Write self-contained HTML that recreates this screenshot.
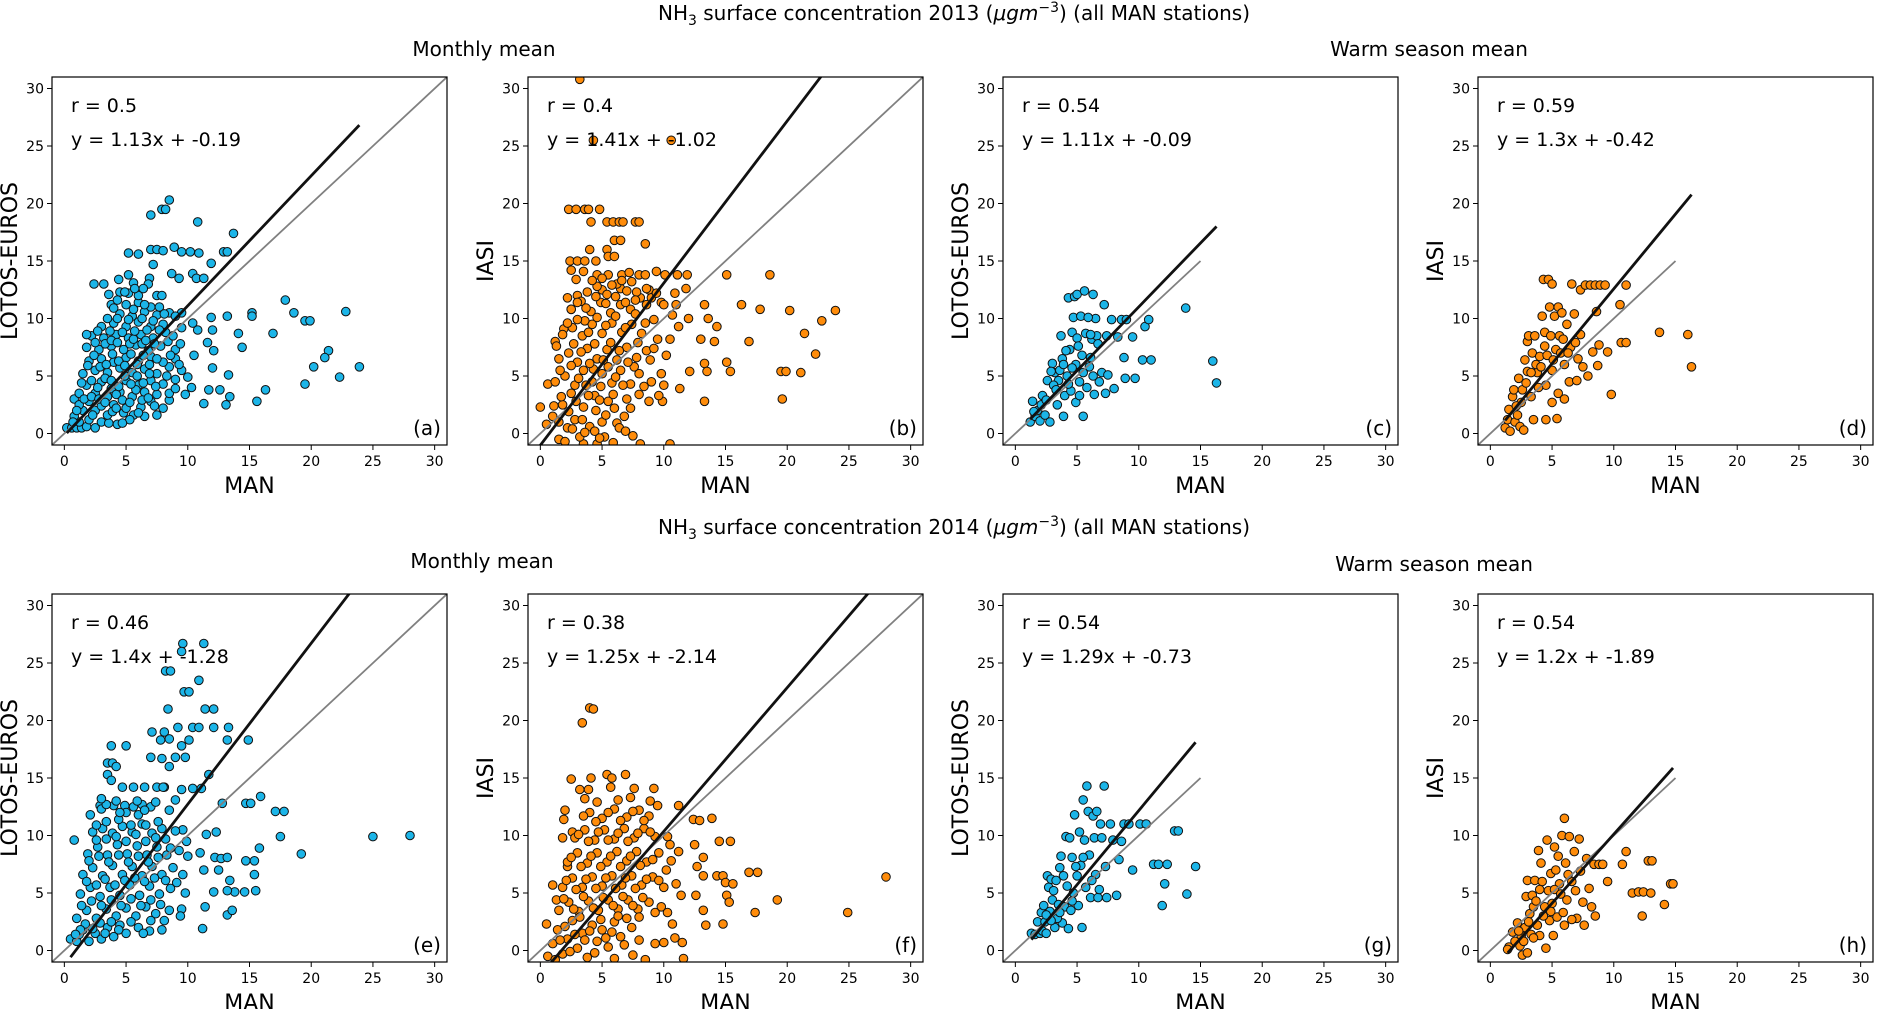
<!DOCTYPE html>
<html><head><meta charset="utf-8"><style>
html,body{margin:0;padding:0;background:#fff;}
svg{display:block;font-family:"DejaVu Sans","Liberation Sans",sans-serif;}
</style></head><body>
<svg id="fig" width="1877" height="1009" viewBox="0 0 1877 1009" xmlns="http://www.w3.org/2000/svg">
<text x="954" y="20" font-size="20" text-anchor="middle">NH<tspan font-size="14" dy="5">3</tspan><tspan dy="-5"> surface concentration 2013 (</tspan><tspan font-style="italic">μgm</tspan><tspan font-size="14" dy="-8">−3</tspan><tspan dy="8">) (all MAN stations)</tspan></text>
<text x="484" y="56" font-size="20" text-anchor="middle">Monthly mean</text>
<text x="1429" y="56" font-size="20" text-anchor="middle">Warm season mean</text>
<text x="954" y="534" font-size="20" text-anchor="middle">NH<tspan font-size="14" dy="5">3</tspan><tspan dy="-5"> surface concentration 2014 (</tspan><tspan font-style="italic">μgm</tspan><tspan font-size="14" dy="-8">−3</tspan><tspan dy="8">) (all MAN stations)</tspan></text>
<text x="482" y="568" font-size="20" text-anchor="middle">Monthly mean</text>
<text x="1434" y="571" font-size="20" text-anchor="middle">Warm season mean</text>
</svg>
<script>
const xTicks = [0,5,10,15,20,25,30];
const yTicks = [0,5,10,15,20,25,30];
const ptsA = [[7,19],[7.9,19.5],[8.2,19.5],[8.5,20.3],[10.8,18.4],[13.7,17.4],[3.2,13],[2.4,13],[5.2,15.7],[6,15.6],[7,16],[7.5,16],[8,15.9],[8.9,16.2],[9.5,15.8],[10.2,15.8],[10.9,15.7],[12.9,15.8],[13.2,15.8],[11.9,14.8],[10.4,13.9],[10.7,13.5],[11.3,13.5],[9.3,13.5],[8.7,13.9],[7.2,14.7],[6.9,13.5],[5.2,13.8],[4.4,13.4],[4.5,12.3],[7.5,12],[7.9,12],[15.2,10.5],[15.2,10.2],[13.2,10.2],[11.9,10.1],[17.9,11.6],[18.6,10.5],[19.5,9.8],[19.9,9.8],[22.8,10.6],[14.1,8.7],[16.9,8.7],[14.4,7.5],[21.4,7.2],[21.1,6.6],[20.2,5.8],[23.9,5.8],[22.3,4.9],[19.5,4.3],[16.3,3.8],[15.6,2.8],[13.1,2.5],[11.3,2.6],[13.4,3.2],[13.3,5.1],[12.6,3.8],[11.7,3.8],[10.3,4.0],[12,5.7],[12.1,7.2],[11.6,7.9],[12,9],[10.8,9],[9.5,9.2],[10.4,9.6],
[0.2,0.5],[0.6,0.5],[1,0.5],[1.4,0.5],[1.8,0.6],[2.5,0.5],[1.2,1],[0.8,1.5],[2,1.2],[3,1],[3.6,0.9],[4.3,0.8],[1.5,2],[2.5,2],[3.5,1.6],[4.8,1.8],[5.6,1.6],[6.5,1.5],[7.5,1.6],[2,2.8],[3,2.4],[4,2.5],[5,2.2],[6.2,2.3],[7,2.8],[8.5,2.9],[0.8,3],[1.2,3.5],[2.5,3.5],[3.5,3.2],[4.5,3.6],[5.5,3.2],[6.5,3.6],[7.5,3.4],[8.5,3.5],[9.8,3.4],[1.8,4.2],[3,4.5],[4,4.3],[5,4.6],[6,4.2],[7,4.6],[8,4.3],[9,4.7],[10,4.9],[1.5,5.2],[2.5,5.5],[3.5,5.3],[4.5,5.7],[5.5,5.3],[6.5,5.6],[7.5,5.2],[8.5,5.8],[9.5,5.5],[2,6.3],[3,6.5],[4,6.2],[5,6.6],[6,6.3],[7,6.7],[8,6.2],[9,6.5],[10.5,6.8],[1.8,7.5],[2.8,7.3],[3.8,7.6],[4.8,7.3],[5.8,7.7],[6.8,7.2],[7.8,7.6],[9,7.3],[2.2,8.5],[3.2,8.3],[4.2,8.6],[5.2,8.3],[6.2,8.6],[7.2,8.3],[8.2,8.8],[1.8,8.6],[3,9.3],[4,9.6],[5,9.3],[6,9.7],[7,9.3],[8,9.5],[9.5,10.5],[3.5,10],[4.5,10.4],[5.5,10.2],[6.5,10.6],[7.5,10.3],[8.5,10.5],[3.8,11.2],[5,11.2],[6,11.4],[7,11],[5.2,12.2],[6,12],[4.9,12.3],[5.6,13.1],[6.8,13]];
const ptsA2 = [[1.2,2.5],[1.6,3],[2.2,3.2],[2.8,3],[3.3,2.7],[3.8,3.9],[4.2,3.4],[4.7,2.9],[5.3,2.7],[5.8,3.8],[6.3,2.9],[6.8,3.1],[7.3,2.4],[1.4,4.4],[2.2,4.6],[2.7,4],[3.3,4.8],[3.8,4.6],[4.4,4.1],[4.9,5],[5.4,4.3],[5.9,5],[6.4,4.4],[6.9,5.2],[7.4,4.1],[8.3,5],[1.9,5.9],[2.4,6.8],[2.9,5.8],[3.4,6],[3.9,6.9],[4.4,6.3],[4.9,5.9],[5.4,6.9],[5.9,6],[6.4,6.8],[6.9,6],[7.5,6.5],[8.6,6.8],[2.5,7.9],[3.3,7.8],[3.8,8.1],[4.3,7.9],[5.3,7.8],[5.6,8.2],[6.3,7.8],[6.6,8.1],[7.3,7.8],[8.4,8],[2.7,8.9],[3.7,8.9],[4.7,8.8],[5.7,8.9],[6.7,9],[7.7,9],[4.3,10],[5.2,9.9],[6.3,10],[7.2,9.8],[4,10.9],[5.6,10.8],[6.5,11.2],[1,2],[0.7,1],[2.3,1.6],[3.9,1.9],[5.3,1.2],[4.2,2.2],[6,1.8],[8,2.2],[9,3.9],[9.3,6],[8.8,8.5],[9.4,7.8],[3.6,12.1],[4.3,11.6],[4.7,0.9],[5.7,12.6],[6.4,12.6],[7.7,11],[8.1,10.4],[9,10.2]];
const ptsB = [[3.2,30.8],[4.3,25.5],[10.6,25.5],[2.3,19.5],[2.9,19.5],[3.6,19.5],[3.9,19.5],[4.8,19.5],[4.1,18.4],[5.4,18.4],[5.9,18.4],[6.4,18.4],[6.7,18.4],[7.7,18.4],[8,18.4],[8.5,16.5],[6,16.8],[6.5,16.8],[5.4,16],[4,16],[5.5,15.4],[6,15.4],[2.4,15],[3,15],[3.6,15],[4.5,15],[4.6,13.8],[5.5,13.8],[6.6,13.8],[7.2,14],[8,13.8],[8.5,13.8],[9.4,14.1],[10.1,13.8],[11.1,13.8],[11.9,13.8],[15.1,13.8],[18.6,13.8],[10.9,12.2],[11.8,12.6],[13.3,11.2],[16.3,11.2],[17.8,10.8],[20.2,10.7],[23.9,10.7],[22.8,9.8],[21.4,8.7],[16.9,8],[14.3,9.3],[13,8.2],[14.1,8],[12,10],[13.6,10],[11.2,9.3],[15.1,6.2],[15.4,5.4],[19.5,5.4],[19.9,5.4],[21.1,5.3],[22.3,6.9],[19.6,3],[13.3,2.8],[11.3,3.9],[13.3,6.1],[13.5,5.4],[12.1,5.4],[9.9,2.8],[10.5,-0.9],[8.1,-0.9],[7.5,-0.2],[6.2,0.9],[4.6,-0.9],[3.5,-0.9],[5.2,-0.3],[0,2.3],[0.6,4.3],[1.2,8],[1.9,9.1],[2.5,10.8],[3,12],[2.5,14.2],[3.5,14.1],[5,12.5],[6.5,12.6],[8.8,12.5],[9.8,11.4],
[0.5,0.8],[1,1.5],[1.5,-0.5],[1.8,2.5],[2.2,0.5],[2.5,3.5],[2.8,1.2],[3.2,-0.3],[3.5,2.3],[4,0.6],[4.5,2],[5,1],[5.5,2.8],[6,2.2],[7,3],[8,3.4],[1.2,4.5],[2,5],[2.8,4.2],[3.5,5.5],[4.2,4.5],[5,5.2],[5.8,4.4],[6.5,5.5],[7.3,4.3],[8,5.2],[9,4.5],[10,4.2],[1.5,6.5],[2.3,7],[3,6.2],[3.8,7.4],[4.6,6.5],[5.4,7.3],[6.2,6.4],[7,7.5],[7.8,6.6],[8.6,7.2],[9.5,8.2],[10.5,8.2],[1.8,8.6],[2.6,9.2],[3.4,8.5],[4.2,9.5],[5,8.7],[5.8,9.6],[6.6,8.8],[7.4,9.5],[8.2,8.7],[9.2,9.9],[2.5,10.8],[3.3,11.5],[4.1,10.6],[4.9,11.4],[5.7,10.5],[6.5,11.2],[7.3,10.8],[8.1,11.8],[9,11.8],[10,11.2],[3.8,12.3],[4.6,12.8],[5.4,12.1],[6.2,13],[7,12.4],[7.8,12.3],[8.6,12.6],[3.6,9.8],[4.4,3.3],[6.8,1.5]];
const ptsB2 = [[1.1,2.4],[1.7,3.2],[2.3,1.9],[2.9,2.8],[3.4,1.2],[3.9,3.3],[4.4,0.2],[4.8,2.9],[5.3,1.6],[5.9,3.4],[6.4,0.5],[7.3,2.2],[1.6,5.5],[2.5,5.9],[3.1,4.8],[3.7,4.2],[4.3,5.6],[4.9,4.1],[5.5,5.8],[6.1,4.9],[6.7,4.2],[7.6,5.8],[8.4,4.1],[1.3,7.6],[2.7,7.8],[3.3,7.1],[4,6.1],[4.4,7.8],[5.1,6.4],[5.7,7.9],[6.4,7.2],[7.1,6.2],[7.9,7.9],[8.9,6.4],[2.2,9.6],[3,9.9],[3.9,8.8],[4.6,10.1],[5.3,9.4],[6.1,10.2],[6.9,9.2],[7.7,10.4],[8.5,9.6],[3,11.4],[3.7,10.9],[4.5,11.9],[5.3,11.3],[6.1,11.9],[6.9,11.4],[7.7,11.6],[8.6,11.2],[9.4,12.2],[4.2,13.3],[5,13.5],[5.8,12.9],[6.6,13.3],[7.4,13.2],[2.2,11.8],[2.9,13.4],[1.5,1],[2,-0.7],[2.6,0.4],[3.6,0.1],[4.8,-0.4],[5.9,-0.8],[6.9,0.2],[8.8,2.8],[9.6,3.3],[9.8,5.2],[9.2,7.4],[10.2,6.8],[10.7,10.3],[11,11.2]];
const ptsC = [[1.2,1],[1.4,2.8],[1.6,1.5],[1.8,2],[2,1.1],[2.2,3.3],[2.4,1.6],[2.6,4.6],[2.8,1],[3,6.1],[3.2,5.3],[3.4,2.5],[3.5,4.6],[3.7,8.5],[3.8,6.5],[3.9,1.5],[4,3.3],[4.2,5],[4.3,11.8],[4.4,7.3],[4.5,3.7],[4.6,8.8],[4.7,10.1],[4.8,11.9],[4.9,6],[5,8.3],[5,12.1],[5.2,4.5],[5.3,10.2],[5.4,6.8],[5.5,1.5],[5.6,12.4],[5.7,8.7],[5.8,4],[6,5.8],[6.2,8.2],[6.3,12.1],[6.4,3.4],[6.5,10],[6.6,8.5],[6.8,4.5],[7,5.3],[7.2,11.2],[7.3,3.5],[7.4,8.5],[7.8,9.9],[8,3.9],[8.3,8.4],[8.6,9.9],[8.8,6.6],[8.9,4.8],[9,9.9],[9.5,8.4],[9.7,4.8],[10.3,6.4],[10.5,9.3],[10.8,9.9],[11,6.4],[13.8,10.9],[16,6.3],[16.3,4.4],[3.1,4.2],[4.1,7.2],[5.1,7.6],[6.1,6.6],[2.9,5.4],[7.5,5.1],[4.9,2.7],[3.3,3.8],[2.1,2.5],[1.5,1.9],[2.5,2.9],[3.6,5.5],[4.3,4.3],[5.5,5.3],[6.3,5],[3.9,6],[4.6,5.7],[5.2,3.3],[6.7,7.8],[6.1,8.6],[5.9,10.1]];
const ptsD = [[1.2,0.5],[1.4,1.2],[1.5,2.1],[1.6,0.2],[1.8,3.2],[1.9,3.8],[2,1],[2.2,1.6],[2.3,4.8],[2.4,0.6],[2.6,3.8],[2.7,0.3],[2.8,6.4],[3,5.4],[3,8],[3.1,8.5],[3.3,3.2],[3.4,7],[3.5,1.2],[3.6,8.5],[3.8,5.3],[4,6.7],[4.2,10.2],[4.3,13.4],[4.4,8.8],[4.5,4.2],[4.5,1.2],[4.7,13.4],[4.8,11],[4.9,8.5],[5,5.5],[5,13],[5.2,10.2],[5.3,7.3],[5.4,1.3],[5.5,11],[5.5,3.5],[5.6,8.5],[5.8,10.5],[6,6],[6.2,9.5],[6.4,4.5],[6.5,7.5],[6.6,13],[6.8,10.4],[7,4.6],[7.1,6.5],[7.3,12.5],[7.3,8.6],[7.5,5.8],[7.7,12.9],[7.9,5],[8.1,12.9],[8.3,7.1],[8.5,12.9],[8.6,10.6],[8.7,5.9],[8.8,7.7],[8.9,12.9],[9.3,12.9],[9.5,7.1],[9.8,3.4],[10.5,11.2],[10.6,7.9],[11,7.9],[11,12.9],[13.7,8.8],[16,8.6],[16.3,5.8],[6,3],[5,2.7],[3.9,4],[2.5,2.7],[4.6,6.8],[2.1,2.4],[2.9,4.4],[3.7,6],[4.1,5.8],[5.1,6.4],[5.7,7],[6.3,7],[4.4,7.6],[3.3,5.3],[6.9,7.9],[5.9,8.2]];
const ptsE = [[9.6,26.7],[9.5,26],[11.3,26.7],[8.2,24.3],[8.6,24.3],[10.9,23.5],[9.7,22.5],[10.1,22.5],[8.4,21],[11.4,21],[12.1,21],[7.1,19],[8.1,19],[9.2,19.4],[10.4,19.4],[10.9,19.4],[12.1,19.4],[13.3,19.4],[13.2,18.3],[14.9,18.3],[8.5,18.4],[10.1,18.3],[9.5,17.8],[7.8,18.3],[5,17.8],[3.8,17.8],[3.5,16.3],[3.9,16.3],[4.2,16],[7,16.8],[7.9,16.7],[8.5,16],[9,16.8],[9.8,16.8],[11.1,14.1],[11.7,15.3],[10.4,14.1],[9.5,14],[5.6,14.2],[6.5,14.2],[7.5,14.2],[8.1,14.2],[3.5,15.3],[3.8,14.8],[4.7,14.2],[14.7,12.8],[15.1,12.8],[15.9,13.4],[17.1,12.1],[17.8,12.1],[12.8,12.8],[17.5,9.9],[25,9.9],[28,10],[19.2,8.4],[15.8,8.9],[15.4,7.8],[14.7,7.8],[15.4,6.6],[15.5,5.2],[14.6,5.1],[13.8,5.1],[13.2,5.2],[13.4,6.1],[12.1,5.1],[12.5,7],[11.4,3.8],[11.2,1.9],[13.2,3.1],[13.6,3.5],[12.3,10.3],[11.5,10.1],[11,8.5],[12.2,8.1],[12.7,8],[13.2,8.1],[11.3,7],[6.9,1.7],[7.9,1.8],[0.8,9.6],[2.1,11.8],[2.9,12.6],[4.9,12.6],[6.3,12.7],
[0.5,1],[1,0.8],[1.5,1.8],[2,0.8],[2.5,1.5],[3,1],[3.5,2],[4,1.2],[4.5,2.2],[5,1.5],[6,2],[1,2.8],[1.8,3.5],[2.6,2.8],[3.4,3.6],[4.2,3],[5,3.7],[5.8,3],[6.6,3.8],[7.4,3.2],[8.5,3.5],[9.5,3.6],[1.3,4.9],[2.1,5.5],[2.9,4.7],[3.7,5.5],[4.5,4.8],[5.3,5.7],[6.1,4.8],[6.9,5.6],[7.7,4.9],[8.6,5.4],[9.8,5],[1.5,6.6],[2.3,7.2],[3.1,6.5],[3.9,7.4],[4.7,6.6],[5.5,7.3],[6.3,6.5],[7.1,7.3],[7.9,6.6],[8.8,7.2],[9.6,6.6],[1.9,8.4],[2.7,9],[3.5,8.3],[4.3,9.2],[5.1,8.4],[5.9,9.1],[6.7,8.3],[7.5,9],[8.3,8.3],[9.3,8.7],[2.3,10.3],[3.1,10.6],[3.9,10.2],[4.7,10.8],[5.5,10.3],[6.3,11],[7.1,10.2],[7.9,10.6],[3,12.3],[4,12.6],[5,12],[6,11.8],[7,12.5],[8.5,12.2],[9.6,10.5]];
const ptsE2 = [[1.2,1.4],[1.7,2.3],[2.3,1.9],[2.9,2.4],[3.3,1.5],[3.8,2.5],[4.4,1.8],[5.4,2.5],[6.4,1.5],[7,2.6],[1.4,3.9],[2.2,4.3],[3,3.9],[3.8,4.4],[4.6,3.9],[5.4,4.5],[6.2,3.9],[7,4.4],[7.8,4],[1.8,6],[2.6,5.7],[3.3,6.2],[4.1,5.7],[4.9,6.1],[5.7,6.3],[6.5,6],[7.3,6.3],[8.2,6.1],[2,7.8],[2.8,8.2],[3.6,7.7],[4.4,8.3],[5.2,7.7],[6,8.2],[6.8,7.7],[7.6,8.1],[8.6,8.9],[2.6,9.6],[3.4,9.7],[4.2,9.9],[5,9.5],[5.8,10.1],[6.6,9.5],[7.4,9.8],[8.2,9.7],[2.6,10.9],[3.4,11.2],[4.4,11.4],[5.4,10.9],[6.6,10.9],[7.6,11.2],[3.4,12.7],[4.5,12],[5.6,12.5],[6.5,12.2],[7.4,12.9],[3,13.2],[4.2,13],[5.9,13],[9,13.1],[8,14.2],[9,10.4],[9.9,9.5],[9.1,5.9],[9.4,3],[8.1,2.6],[10,8.2],[1.3,1.8],[0.9,1.4]];
const ptsF = [[4,21.1],[4.3,21],[3.4,19.8],[2.5,14.9],[4.1,15],[5.4,15.3],[5.8,15],[6.9,15.3],[7.6,14.1],[9.2,14.1],[3.2,14],[3.6,13.2],[3.9,14],[5.7,14.2],[8.9,13],[9.5,12.6],[11.2,12.6],[12.4,11.4],[12.9,11.3],[13.9,11.5],[14.5,9.5],[15.4,9.5],[12.5,9.2],[13.2,8.1],[12.7,7.3],[13.2,6.5],[14.3,6.5],[14.8,6.5],[15,5.9],[15.6,5.8],[16.9,6.8],[17.6,6.8],[28,6.4],[19.2,4.4],[17.4,3.3],[24.9,3.3],[15.1,4.8],[15.3,4.2],[14.8,2.3],[13.4,2.2],[13.2,3.5],[12.6,4.8],[11.4,4.8],[10.9,1.1],[11.5,0.7],[11.6,-0.7],[9.3,0.6],[10,0.7],[8,0.9],[8.5,-0.8],[7.5,-0.4],[6,-0.7],[0.5,2.3],[1.3,4.4],[1.8,9.8],[2,12.2],[1.9,11.4],[2.6,10.3],[1,5.7],[2.2,7.3],
[0.6,-0.5],[1,0.6],[1.4,1.8],[1.8,-0.3],[2.2,1],[2.6,2.6],[3,0.2],[3.4,1.5],[3.8,-0.6],[4.2,2.2],[4.6,0.8],[5,1.8],[5.5,0.3],[6,2.5],[6.5,1.2],[7,2.8],[1.5,3.5],[2.3,4.2],[3.1,3.4],[3.9,4.3],[4.7,3.5],[5.5,4.4],[6.3,3.6],[7.1,4.4],[7.9,3.6],[8.8,4.2],[9.8,3.8],[1.8,5.5],[2.6,6.3],[3.4,5.5],[4.2,6.4],[5,5.6],[5.8,6.5],[6.6,5.7],[7.4,6.5],[8.2,5.7],[9.1,6.4],[10,5.5],[2.2,7.7],[3,8.5],[3.8,7.6],[4.6,8.5],[5.4,7.7],[6.2,8.6],[7,7.8],[7.8,8.6],[8.6,7.7],[9.6,8.5],[10.6,7.8],[2.8,9.8],[3.6,10.5],[4.4,9.6],[5.2,10.5],[6,9.7],[6.8,10.6],[7.6,9.8],[8.4,10.6],[9.3,9.9],[10.3,9.9],[4,12],[5,11.5],[6,12.3],[7,11.6],[8,12.2],[8.8,11.7]];
const ptsF2 = [[1.2,-0.8],[1.6,0.9],[2,2.1],[2.4,-0.1],[2.8,1.4],[3.2,2.9],[3.6,0.9],[4,1.7],[4.4,-0.2],[4.9,2.7],[5.3,1.1],[5.8,1.6],[6.3,3],[6.8,0.5],[7.4,2],[8,2.9],[1.9,4.5],[2.7,3.6],[3.5,4.7],[4.3,3.7],[5.1,4.6],[5.9,3.9],[6.7,4.7],[7.5,3.9],[8.3,4.6],[9.3,3.3],[2.1,6.1],[2.9,5.3],[3.7,6.2],[4.5,5.4],[5.3,6.3],[6.1,5.4],[6.9,6.3],[7.7,5.4],[8.6,6.2],[9.6,6.1],[2.5,8.1],[3.3,7.3],[4.1,8.2],[4.9,7.3],[5.7,8.2],[6.5,7.3],[7.3,8.2],[8.1,7.4],[9.1,7.9],[3.1,10.1],[3.9,9.5],[4.7,10.3],[5.5,9.6],[6.3,10.2],[7.1,9.5],[7.9,10.2],[8.9,10.3],[3.5,11.7],[4.5,11.2],[5.5,12],[6.5,11.3],[7.5,12.1],[8.4,11.3],[4.6,12.9],[6.3,13.1],[7.3,13.3],[10.2,7],[10.5,9.2],[11,5.8],[10.3,3.3],[10.7,2.3],[11.2,8.6]];
const ptsG = [[1.3,1.5],[1.6,1.4],[1.8,2.5],[2,1.5],[2.1,3.3],[2.2,1.7],[2.3,3.9],[2.4,2.5],[2.5,1.5],[2.6,6.5],[2.7,5.5],[2.8,3.4],[2.9,6.2],[3,4.4],[3.2,2],[3.3,6.1],[3.5,4],[3.6,7.2],[3.7,8.2],[3.8,2.4],[3.9,6.5],[4,3.8],[4.1,9.9],[4.3,1.9],[4.4,9.8],[4.6,8.1],[4.7,5],[4.8,11.8],[5,6.5],[5.1,3.9],[5.2,10.3],[5.3,7.4],[5.4,2],[5.5,13.1],[5.6,9.6],[5.7,5.5],[5.8,14.3],[5.9,12.1],[6,8.3],[6.1,4.6],[6.3,11.7],[6.4,9.8],[6.5,6.6],[6.6,12.1],[6.7,4.6],[6.9,11],[7,9.8],[7.2,14.3],[7.3,7.3],[7.4,4.6],[7.7,11],[7.9,9.6],[8.2,4.8],[8.4,7.9],[8.6,9.5],[8.8,11],[9.2,11],[9.5,7],[10.1,11],[10.6,11],[11.2,7.5],[11.6,7.5],[12.1,5.8],[11.9,3.9],[12.3,7.5],[12.9,10.4],[13.2,10.4],[13.9,4.9],[14.6,7.3],[4.5,3.5],[3.4,2.8],[6.8,5.3],[2.9,2.6],[3.1,5.2],[4.2,5.6],[4.9,7.3],[5.5,8.1],[6.2,6.1],[3.6,3.3],[2.5,3.1],[4.6,4.3]];
const ptsH = [[1.5,0.3],[1.8,1.6],[2,0.8],[2.2,2.4],[2.4,0.4],[2.5,1.3],[2.6,-0.4],[2.7,0.8],[2.8,2],[2.9,4.7],[3,6.1],[3,-0.2],[3.2,3.2],[3.3,1.4],[3.4,4.8],[3.6,6.1],[3.8,2.2],[3.9,8.7],[4,1.3],[4.1,7.6],[4.2,6],[4.4,3.8],[4.5,0.2],[4.6,9.6],[4.7,5.2],[4.8,2.6],[4.9,6.7],[5,4.1],[5.1,1.3],[5.2,9],[5.3,7],[5.4,2.9],[5.5,8.2],[5.6,5.8],[5.8,10],[5.9,3.3],[6,11.5],[6.1,7.6],[6.2,4.4],[6.4,9.9],[6.6,6],[6.8,8.6],[7,2.8],[7.2,9.7],[7.3,6.9],[7.5,4.2],[7.6,2.2],[7.8,8],[8,5.4],[8.2,3.8],[8.4,7.5],[8.5,3],[8.8,7.5],[9.1,7.5],[9.5,6],[11,8.6],[10.7,7.5],[11.5,5],[12,5.1],[12.4,5.1],[12.3,3],[13,5],[12.8,7.8],[13.1,7.8],[14.1,4],[14.6,5.8],[14.8,5.8],[3.5,3.8],[6.6,2.7],[1.4,0.1],[2.3,1.7],[3.1,2.5],[3.7,4.3],[4.3,3],[5.2,5.3],[5.7,4.9],[6.3,6.6],[6.9,5.2],[4,5.3],[3.5,1.1],[4.9,3.4],[6,2.2]];
const rValues = ["0.5","0.4","0.54","0.59","0.46","0.38","0.54","0.54"];
const slopes = [1.13,1.41,1.11,1.3,1.4,1.25,1.29,1.2];
const intercepts = [-0.19,-1.02,-0.09,-0.42,-1.28,-2.14,-0.73,-1.89];
const panelLetters = ["(a)","(b)","(c)","(d)","(e)","(f)","(g)","(h)"];
const yLabels = ["LOTOS-EUROS","IASI","LOTOS-EUROS","IASI","LOTOS-EUROS","IASI","LOTOS-EUROS","IASI"];
const diagEnd = [31,31,15,15,31,31,15,15];
const allPts = [ptsA.concat(ptsA2),ptsB.concat(ptsB2),ptsC,ptsD,ptsE.concat(ptsE2),ptsF.concat(ptsF2),ptsG,ptsH];

const NS="http://www.w3.org/2000/svg";
const svg=document.getElementById('fig');
const lefts=[52,528,1003,1478];
const tops=[77,594];
const W=395,H=368,D0=-1,D1=31;
function mk(tag,attrs,parent){const e=document.createElementNS(NS,tag);for(const k in attrs)e.setAttribute(k,attrs[k]);(parent||svg).appendChild(e);return e;}

allPts.forEach((pts,i)=>{
  const L=lefts[i%4],T=tops[Math.floor(i/4)],B=T+H;
  const sx=v=>L+(v-D0)/(D1-D0)*W;
  const sy=v=>B-(v-D0)/(D1-D0)*H;
  const g=mk('g',{});
  
  
  const cp=mk('clipPath',{id:'cp'+i},g);
  mk('rect',{x:L,y:T,width:W,height:H},cp);
  const color=(i%2===0)?'#1cb5e8':'#ff8c0a';
  const dots=mk('g',{'clip-path':'url(#cp'+i+')'},g);
  
  
  pts.forEach(p=>{
    const c=mk('circle',{cx:sx(p[0]).toFixed(1),cy:sy(p[1]).toFixed(1),r:4.3,fill:color,stroke:'#111','stroke-width':1},dots);
    
    
  });
  const lines=mk('g',{'clip-path':'url(#cp'+i+')'},g);
  const d=mk('line',{x1:sx(-1),y1:sy(-1),x2:sx(diagEnd[i]),y2:sy(diagEnd[i]),stroke:'#808080','stroke-width':1.8},lines);
  
  
  let xmin=Infinity,xmax=-Infinity;pts.forEach(p=>{xmin=Math.min(xmin,p[0]);xmax=Math.max(xmax,p[0]);});
  const f=x=>slopes[i]*x+intercepts[i];
  const fl=mk('line',{x1:sx(xmin),y1:sy(f(xmin)),x2:sx(xmax),y2:sy(f(xmax)),stroke:'#111','stroke-width':2.8},lines);
  
  
  const fr=mk('rect',{x:L,y:T,width:W,height:H,fill:'none',stroke:'#000','stroke-width':1.2},g);
  
  
  xTicks.forEach(t=>{
    mk('line',{x1:sx(t),y1:B,x2:sx(t),y2:B+5,stroke:'#000','stroke-width':1},g);
    const tx=mk('text',{x:sx(t),y:B+21,'font-size':14,'text-anchor':'middle'},g);
    tx.textContent=t;
    
    
  });
  yTicks.forEach(t=>{
    mk('line',{x1:L-5,y1:sy(t),x2:L,y2:sy(t),stroke:'#000','stroke-width':1},g);
    const tx=mk('text',{x:L-8,y:sy(t)+5,'font-size':14,'text-anchor':'end'},g);
    tx.textContent=t;
    
    
  });
  const xl=mk('text',{x:L+W/2,y:B+48,'font-size':22,'text-anchor':'middle'},g);
  xl.textContent='MAN';
  
  
  const yl=mk('text',{x:0,y:0,'font-size':22,'text-anchor':'middle',transform:'translate('+(L-35)+','+(T+H/2)+') rotate(-90)'},g);
  yl.textContent=yLabels[i];
  
  
  const rt=mk('text',{x:L+19,y:T+35,'font-size':19},g);
  rt.textContent='r = '+rValues[i];
  
  
  const et=mk('text',{x:L+19,y:T+69,'font-size':19},g);
  et.textContent='y = '+slopes[i]+'x + '+intercepts[i];
  
  
  const pl=mk('text',{x:L+W-6,y:B-10,'font-size':20,'text-anchor':'end'},g);
  pl.textContent=panelLetters[i];
  
  
});
</script>
</body></html>
